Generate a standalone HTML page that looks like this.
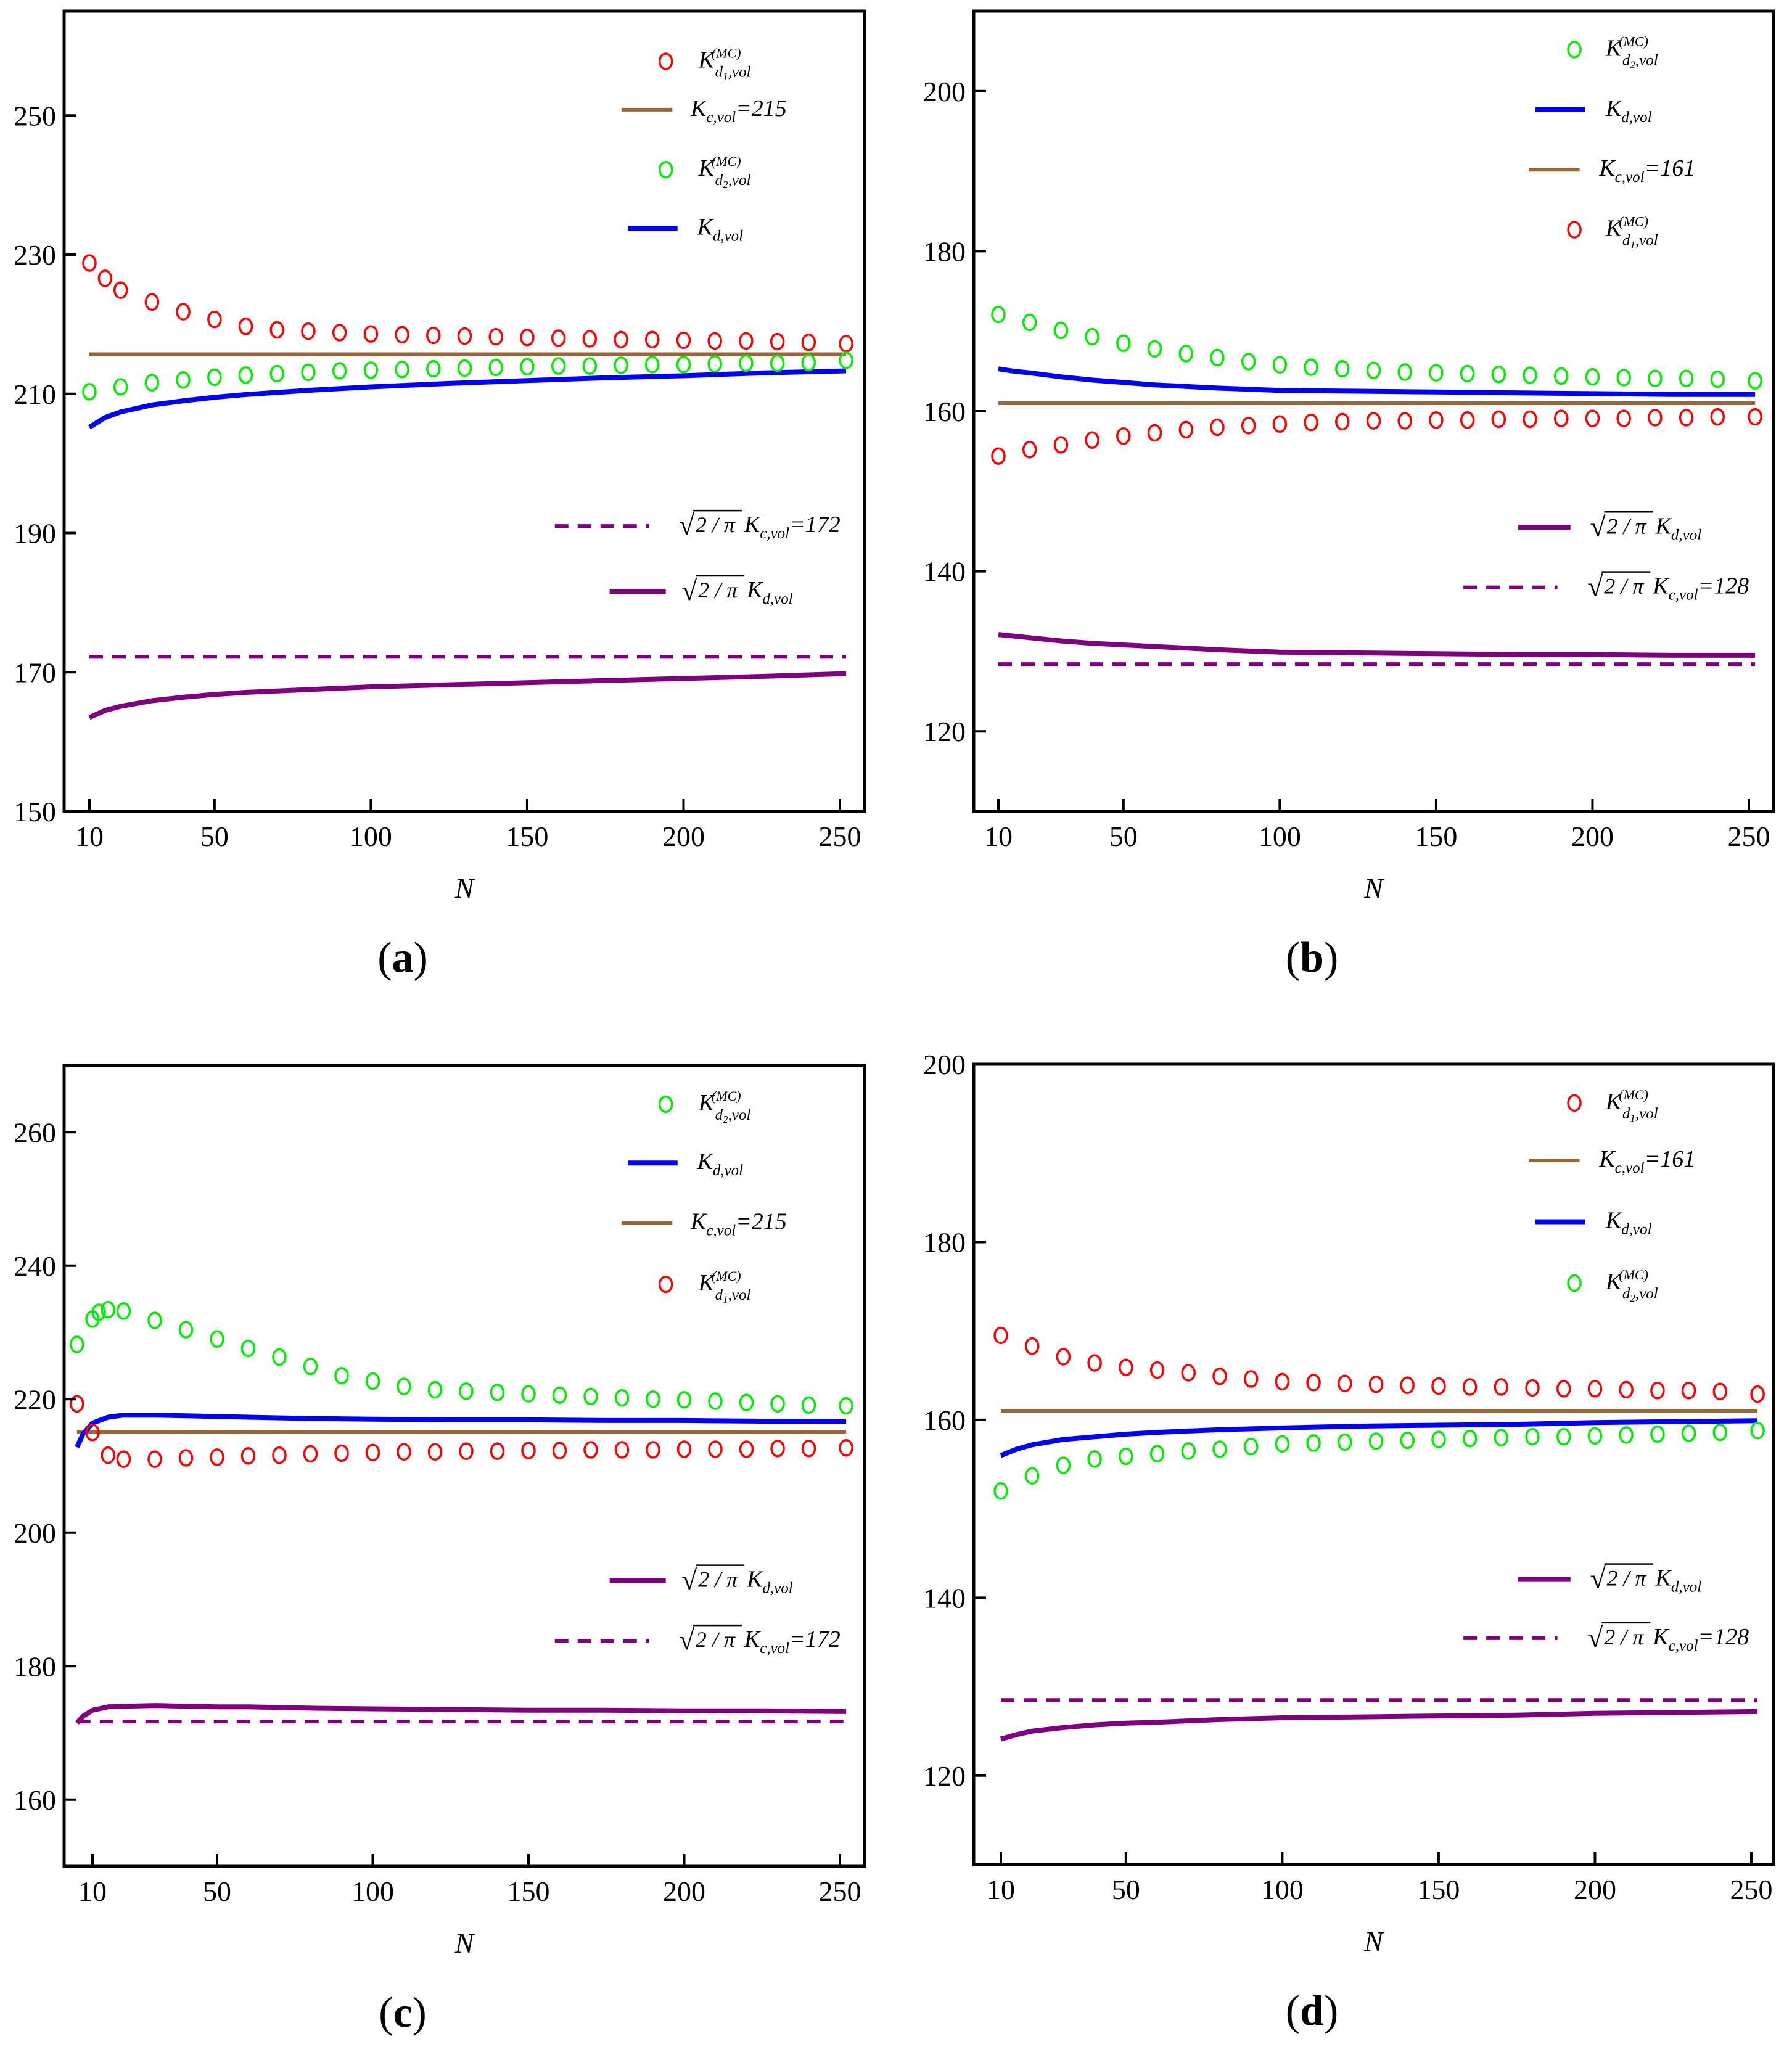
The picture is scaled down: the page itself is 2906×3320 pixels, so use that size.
<!DOCTYPE html>
<html><head><meta charset="utf-8"><style>
html,body{margin:0;padding:0;background:#fff;}
svg{display:block;}
text{font-family:"Liberation Serif",serif;}
</style></head><body>
<svg id="fig" width="2906" height="3320" viewBox="0 0 2906 3320" xmlns="http://www.w3.org/2000/svg"></svg>
<script>
// ---------- data ----------
const lineN = [10,15,20,30,40,50,60,80,100,125,150,175,200,225,252];
const lineNc = [5,7,10,15,20,30,40,50,60,80,100,125,150,175,200,225,252];
const mcN_10_15 = [10,15,20,30,40,50,60,70,80,90,100,110,120,130,140,150,160,170,180,190,200,210,220,230,240,252];
const mcN_10 = [10,20,30,40,50,60,70,80,90,100,110,120,130,140,150,160,170,180,190,200,210,220,230,240,252];
const mcNc_green = [5,10,12,15,20,30,40,50,60,70,80,90,100,110,120,130,140,150,160,170,180,190,200,210,220,230,240,252];
const mcNc_red = [5,10,15,20,30,40,50,60,70,80,90,100,110,120,130,140,150,160,170,180,190,200,210,220,230,240,252];

// panel (a)
const aRed = [228.8,226.6,224.9,223.2,221.8,220.7,219.7,219.2,219.0,218.8,218.6,218.5,218.4,218.3,218.2,218.1,218.0,217.9,217.8,217.8,217.7,217.6,217.6,217.5,217.4,217.2];
const aGreen = [210.3,211.0,211.6,212.0,212.4,212.7,212.9,213.1,213.3,213.4,213.5,213.6,213.7,213.8,213.9,214.0,214.0,214.1,214.2,214.2,214.3,214.4,214.4,214.5,214.8];
const aBlue = [205.2,206.6,207.4,208.4,209.0,209.5,209.9,210.5,211.0,211.5,211.9,212.3,212.6,213.0,213.3];
const aPurple = [163.5,164.5,165.1,165.9,166.4,166.8,167.1,167.5,167.9,168.2,168.5,168.8,169.1,169.4,169.8];
const aBrown = 215.7, aDash = 172.2;
// panel (b)
const bGreen = [172.1,171.1,170.1,169.3,168.5,167.8,167.2,166.7,166.2,165.8,165.5,165.3,165.1,164.9,164.8,164.7,164.6,164.5,164.4,164.3,164.2,164.1,164.1,164.0,163.8];
const bRed = [154.4,155.2,155.8,156.4,156.9,157.3,157.7,158.0,158.2,158.4,158.6,158.7,158.8,158.8,158.9,158.9,159.0,159.0,159.1,159.1,159.1,159.2,159.2,159.3,159.3];
const bBlue = [165.3,165.0,164.8,164.3,163.9,163.6,163.3,162.9,162.6,162.5,162.4,162.3,162.2,162.1,162.1];
const bPurple = [132.1,131.9,131.7,131.3,131.0,130.8,130.6,130.2,129.9,129.8,129.7,129.6,129.6,129.5,129.5];
const bBrown = 161, bDash = 128.4;
// panel (c)
const cGreen = [228.2,232.0,233.0,233.4,233.2,231.8,230.4,229.0,227.6,226.3,224.9,223.5,222.7,221.9,221.4,221.2,221.0,220.8,220.6,220.4,220.2,220.0,219.9,219.7,219.5,219.3,219.1,219.0];
const cRed = [219.3,215.0,211.6,211.0,211.0,211.2,211.3,211.5,211.6,211.8,211.9,212.0,212.1,212.1,212.2,212.2,212.3,212.3,212.4,212.4,212.4,212.5,212.5,212.5,212.6,212.6,212.7];
const cBlue = [212.8,214.8,216.4,217.3,217.6,217.6,217.5,217.4,217.3,217.1,217.0,216.9,216.9,216.8,216.8,216.7,216.7];
const cPurple = [171.5,172.5,173.4,173.9,174.0,174.1,174.0,173.9,173.9,173.7,173.6,173.5,173.4,173.4,173.3,173.3,173.2];
const cBrown = 215.1, cDash = 171.7;
// panel (d)
const dRed = [169.5,168.3,167.1,166.4,165.9,165.6,165.3,164.9,164.6,164.3,164.2,164.1,164.0,163.9,163.8,163.7,163.7,163.6,163.5,163.5,163.4,163.3,163.3,163.2,162.9];
const dGreen = [152.0,153.7,154.9,155.6,155.9,156.2,156.5,156.7,157.0,157.3,157.4,157.5,157.6,157.7,157.8,157.9,158.0,158.1,158.1,158.2,158.3,158.4,158.5,158.6,158.8];
const dBlue = [156.0,156.7,157.2,157.8,158.1,158.4,158.6,158.9,159.1,159.3,159.4,159.5,159.7,159.8,159.9];
const dPurple = [124.1,124.6,125.0,125.4,125.7,125.9,126.0,126.3,126.5,126.6,126.7,126.8,127.0,127.1,127.2];
const dBrown = 161, dDash = 128.5;

const xTicks = [10,50,100,150,200,250];
const aYTicks = [150,170,190,210,230,250];
const bYTicks = [120,140,160,180,200];
const cYTicks = [160,180,200,220,240,260];
const dYTicks = [120,140,160,180,200];

// ---------- drawing ----------
const NS = "http://www.w3.org/2000/svg";
const svg = document.getElementById('fig');
const S = 2.117;
function mk(tag, attrs, parent){
  const e = document.createElementNS(NS, tag);
  for (const k in attrs) e.setAttribute(k, attrs[k]);
  (parent||svg).appendChild(e);
  return e;
}
const RED='#ff0000', GREEN='#00ee00', BLUE='#0000ff', BROWN='#9b6633', PURPLE='#800080';

function panel(cfg){
  const g = mk('g', {});
  
  
  const L=cfg.L,R=cfg.R,T=cfg.T,B=cfg.B;
  const kx = (cfg.x250 - cfg.x10)/240;
  const X = n => cfg.x10 + (n-10)*kx;
  const Y = v => B - (v - cfg.ymin)/(cfg.ymax - cfg.ymin)*(B - T);
  const clip = mk('clipPath', {id:'clip'+cfg.id}, g);
  mk('rect', {x:L, y:T, width:R-L, height:B-T}, clip);
  const plot = mk('g', {'clip-path':'url(#clip'+cfg.id+')'}, g);
  
  

  const x0 = X(cfg.lineN[0]), x1 = X(cfg.lineN[cfg.lineN.length-1]);
  const br = mk('line', {x1:x0, x2:x1, y1:Y(cfg.brown), y2:Y(cfg.brown), stroke:BROWN, 'stroke-width':6}, plot);
  
  
  const ds = mk('line', {x1:x0, x2:x1, y1:Y(cfg.dash), y2:Y(cfg.dash), stroke:PURPLE, 'stroke-width':6, 'stroke-dasharray':'22 15'}, plot);
  
  

  function curve(vals, col, name){
    const d = vals.map((v,i)=>(i?'L':'M')+X(cfg.lineN[i]).toFixed(1)+' '+Y(v).toFixed(1)).join(' ');
    const p = mk('path', {d:d, fill:'none', stroke:col, 'stroke-width':8, 'stroke-linejoin':'round'}, plot);
    
    
  }
  curve(cfg.blue, BLUE, 'kd-vol-curve');
  curve(cfg.purple, PURPLE, 'sqrt-kd-vol-curve');

  function markers(ns, vals, col, name){
    const mg = mk('g', {}, plot);
    
    
    vals.forEach((v,i)=>{
      const m = mk('ellipse', {cx:X(ns[i]), cy:Y(v), rx:10, ry:12.5, fill:'none', stroke:col, 'stroke-width':3.5}, mg);
      
      
    });
  }
  markers(cfg.redN, cfg.red, RED, 'mc-d1-markers');
  markers(cfg.greenN, cfg.green, GREEN, 'mc-d2-markers');

  const fr = mk('rect', {x:L, y:T, width:R-L, height:B-T, fill:'none', stroke:'#000', 'stroke-width':5}, g);
  
  
  xTicks.forEach(t=>{
    mk('line', {x1:X(t), x2:X(t), y1:B, y2:B-20, stroke:'#000', 'stroke-width':4}, g);
    const tl = mk('text', {x:X(t), y:B+56, 'font-size':46, 'text-anchor':'middle'}, g);
    tl.textContent = t;
    
    
  });
  cfg.yTicks.forEach(t=>{
    mk('line', {x1:L, x2:L+20, y1:Y(t), y2:Y(t), stroke:'#000', 'stroke-width':4}, g);
    const tl = mk('text', {x:L-13, y:Y(t)+16, 'font-size':46, 'text-anchor':'end'}, g);
    tl.textContent = t;
    
    
  });
  const xl = mk('text', {x:(L+R)/2, y:B+140, 'font-size':46, 'font-style':'italic', 'text-anchor':'middle'}, g);
  xl.textContent = 'N';
  
  
  const cap = mk('text', {x:(L+R)/2 - 100, y:B+260, 'font-size':70, 'text-anchor':'middle'}, g);
  cap.innerHTML = '(<tspan font-weight="bold">'+cfg.id+'</tspan>)';
  
  

  const lg = mk('g', {}, g);
  
  
  cfg.legend.forEach(en=>{
    const eg = mk('g', {}, lg);
    
    
    const y = en.y*S;
    if (en.kind==='red' || en.kind==='green'){
      mk('ellipse', {cx:en.mx*S, cy:y, rx:10, ry:12.5, fill:'none', stroke: en.kind==='red'?RED:GREEN, 'stroke-width':3.5}, eg);
    } else {
      const col = {brown:BROWN, blue:BLUE, purple:PURPLE, dash:PURPLE}[en.kind];
      const w = (en.kind==='blue'||en.kind==='purple')?8:6;
      const a = {x1:en.x1*S, x2:en.x2*S, y1:y, y2:y, stroke:col, 'stroke-width':w};
      if (en.kind==='dash') a['stroke-dasharray']='22 15';
      mk('line', a, eg);
    }
    let tx = en.tx*S;
    const base = y + 10;
    if (en.sqrt){
      const sq = mk('text', {x:tx, y:base+4, 'font-size':46}, eg);
      sq.textContent = '√';
      mk('line', {x1:tx+23, x2:tx+102, y1:base-35, y2:base-35, stroke:'#000', 'stroke-width':2.5}, eg);
      const fr2 = mk('text', {x:tx+27, y:base, 'font-size':36, 'font-style':'italic'}, eg);
      fr2.textContent = '2 / π';
      tx += 106;
    }
    const t = mk('text', {x:tx, y:base, 'font-size':38, 'font-style':'italic'}, eg);
    if (en.label==='mc'){
      t.innerHTML = 'K<tspan dx="-4" dy="-16" font-size="22">(MC)</tspan>';
      const s = mk('text', {x:tx+27, y:base+15, 'font-size':25, 'font-style':'italic'}, eg);
      s.innerHTML = 'd<tspan font-size="17" dy="5">'+en.sub+'</tspan><tspan dy="-5">,vol</tspan>';
    } else if (en.label==='kc'){
      t.innerHTML = 'K<tspan font-size="25" dy="10">c,vol</tspan><tspan dy="-10">='+en.val+'</tspan>';
    } else {
      t.innerHTML = 'K<tspan font-size="25" dy="10">d,vol</tspan>'+(en.val?'<tspan dy="-10">='+en.val+'</tspan>':'');
    }
  });
}

panel({id:'a', L:104, R:1402, T:18, B:1316, x10:145, x250:1362, ymin:150, ymax:265, yTicks:aYTicks,
  lineN:lineN, blue:aBlue, purple:aPurple, brown:aBrown, dash:aDash,
  redN:mcN_10_15, red:aRed, greenN:mcN_10, green:aGreen,
  legend:[
    {kind:'red', mx:510, y:47, tx:535, label:'mc', sub:'1'},
    {kind:'brown', x1:476, x2:515, y:84, tx:529, label:'kc', val:'215'},
    {kind:'green', mx:510, y:130, tx:535, label:'mc', sub:'2'},
    {kind:'blue', x1:481, x2:519, y:175, tx:534, label:'kd'},
    {kind:'dash', x1:425, x2:497, y:403, tx:520, sqrt:true, label:'kc', val:'172'},
    {kind:'purple', x1:467, x2:510, y:453, tx:522, sqrt:true, label:'kd'}
  ]});
panel({id:'b', L:1579, R:2876, T:18, B:1316, x10:1619, x250:2836, ymin:110, ymax:210, yTicks:bYTicks,
  lineN:lineN, blue:bBlue, purple:bPurple, brown:bBrown, dash:bDash,
  redN:mcN_10, red:bRed, greenN:mcN_10, green:bGreen,
  legend:[
    {kind:'green', mx:1206, y:38, tx:1230, label:'mc', sub:'2'},
    {kind:'blue', x1:1176, x2:1214, y:84, tx:1230, label:'kd'},
    {kind:'brown', x1:1171, x2:1210, y:130, tx:1225, label:'kc', val:'161'},
    {kind:'red', mx:1206, y:176, tx:1230, label:'mc', sub:'1'},
    {kind:'purple', x1:1163, x2:1203, y:404, tx:1218, sqrt:true, label:'kd'},
    {kind:'dash', x1:1121, x2:1193, y:450, tx:1216, sqrt:true, label:'kc', val:'128'}
  ]});
panel({id:'c', L:104, R:1402, T:1728, B:3027, x10:150, x250:1362, ymin:150, ymax:270, yTicks:cYTicks,
  lineN:lineNc, blue:cBlue, purple:cPurple, brown:cBrown, dash:cDash,
  redN:mcNc_red, red:cRed, greenN:mcNc_green, green:cGreen,
  legend:[
    {kind:'green', mx:510, y:846, tx:535, label:'mc', sub:'2'},
    {kind:'blue', x1:481, x2:519, y:891, tx:534, label:'kd'},
    {kind:'brown', x1:476, x2:515, y:937, tx:529, label:'kc', val:'215'},
    {kind:'red', mx:510, y:984, tx:535, label:'mc', sub:'1'},
    {kind:'purple', x1:467, x2:510, y:1211, tx:522, sqrt:true, label:'kd'},
    {kind:'dash', x1:425, x2:497, y:1257, tx:520, sqrt:true, label:'kc', val:'172'}
  ]});
panel({id:'d', L:1579, R:2876, T:1726, B:3024, x10:1623, x250:2840, ymin:110, ymax:200, yTicks:dYTicks,
  lineN:lineN, blue:dBlue, purple:dPurple, brown:dBrown, dash:dDash,
  redN:mcN_10, red:dRed, greenN:mcN_10, green:dGreen,
  legend:[
    {kind:'red', mx:1206, y:845, tx:1230, label:'mc', sub:'1'},
    {kind:'brown', x1:1171, x2:1210, y:889, tx:1225, label:'kc', val:'161'},
    {kind:'blue', x1:1176, x2:1214, y:936, tx:1230, label:'kd'},
    {kind:'green', mx:1206, y:983, tx:1230, label:'mc', sub:'2'},
    {kind:'purple', x1:1163, x2:1203, y:1210, tx:1218, sqrt:true, label:'kd'},
    {kind:'dash', x1:1121, x2:1193, y:1255, tx:1216, sqrt:true, label:'kc', val:'128'}
  ]});
</script>
</body></html>
